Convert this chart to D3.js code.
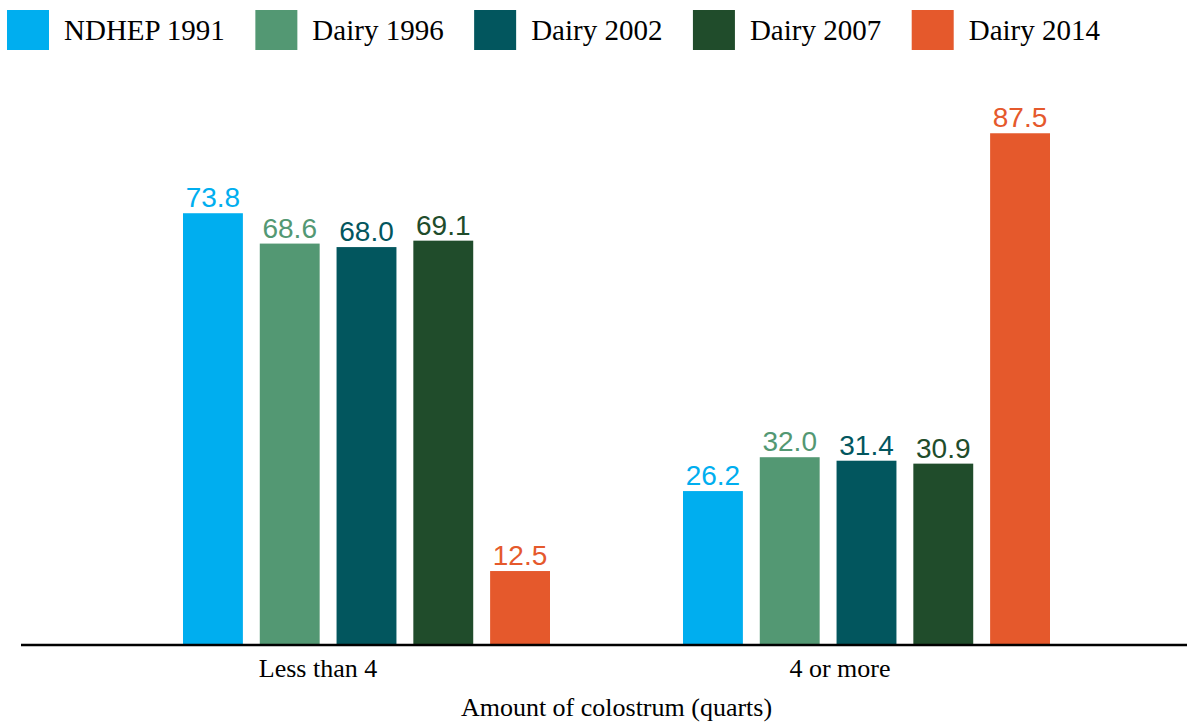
<!DOCTYPE html>
<html>
<head>
<meta charset="utf-8">
<script src="https://cdn.jsdelivr.net/npm/d3@7"></script>
<style>
  html, body { margin: 0; padding: 0; background: #fff; }
  svg { display: block; }
</style>
</head>
<body>
<svg id="chart" width="1187" height="722"></svg>
<script>
const categories = ["Less than 4", "4 or more"];
const seriesNames = ["NDHEP 1991", "Dairy 1996", "Dairy 2002", "Dairy 2007", "Dairy 2014"];
const ndhep1991 = [73.8, 26.2];
const dairy1996 = [68.6, 32.0];
const dairy2002 = [68.0, 31.4];
const dairy2007 = [69.1, 30.9];
const dairy2014 = [12.5, 87.5];
const seriesColors = ["#00AEEF", "#539873", "#02565E", "#204C2B", "#E5592C"];
const xTitle = "Amount of colostrum (quarts)";

const seriesValues = [ndhep1991, dairy1996, dairy2002, dairy2007, dairy2014];
const data = [];
categories.forEach((c, ci) => {
  seriesNames.forEach((s, si) => {
    data.push({ cat: c, series: s, value: seriesValues[si][ci], color: seriesColors[si] });
  });
});

const svg = d3.select("#chart");
const baseline = 644;

const x0 = d3.scaleBand().domain(categories).range([116.5, 1116.5]).padding(0);
const x1 = d3.scaleBand().domain(seriesNames).range([66.5, 433.5]).paddingInner(0.22).paddingOuter(0);
const y = d3.scaleLinear().domain([0, 100]).range([baseline, baseline - 583.7]);

// bars
svg.append("g").selectAll("rect").data(data).join("rect")
  .attr("x", d => x0(d.cat) + x1(d.series))
  .attr("y", d => y(d.value))
  .attr("width", x1.bandwidth())
  .attr("height", d => y(0) - y(d.value))
  .attr("fill", d => d.color);

// value labels
svg.append("g").selectAll("text").data(data).join("text")
  .attr("x", d => x0(d.cat) + x1(d.series) + x1.bandwidth() / 2)
  .attr("y", d => y(d.value) - 6)
  .attr("text-anchor", "middle")
  .attr("font-family", "'Liberation Sans', Arial, sans-serif")
  .attr("font-size", 28)
  .attr("fill", d => d.color)
  .text(d => d.value.toFixed(1));

// axis line
svg.append("line")
  .attr("x1", 21).attr("x2", 1187)
  .attr("y1", baseline + 1).attr("y2", baseline + 1)
  .attr("stroke", "#000").attr("stroke-width", 2.5);

// category labels
const tickOffsets = [-48.5, -26.5];
svg.append("g").selectAll("text").data(categories).join("text")
  .attr("x", (d, i) => x0(d) + x0.bandwidth() / 2 + tickOffsets[i])
  .attr("y", 677)
  .attr("text-anchor", "middle")
  .attr("font-family", "'Liberation Serif', 'Times New Roman', serif")
  .attr("font-size", 26)
  .attr("fill", "#000")
  .text(d => d);

// axis title
svg.append("text")
  .attr("x", (x0.range()[0] + x0.range()[1]) / 2)
  .attr("y", 716)
  .attr("text-anchor", "middle")
  .attr("font-family", "'Liberation Serif', 'Times New Roman', serif")
  .attr("font-size", 26)
  .attr("fill", "#000")
  .text(xTitle);

// legend
const legend = svg.append("g");
let lx = 7;
seriesNames.forEach((s, i) => {
  legend.append("rect")
    .attr("x", lx).attr("y", 10)
    .attr("width", 42).attr("height", 40)
    .attr("fill", seriesColors[i]);
  const t = legend.append("text")
    .attr("x", lx + 57).attr("y", 40)
    .attr("font-family", "'Liberation Serif', 'Times New Roman', serif")
    .attr("font-size", 29)
    .attr("fill", "#000")
    .text(s);
  lx = lx + 57 + t.node().getComputedTextLength() + 30.5;
});
</script>
</body>
</html>
